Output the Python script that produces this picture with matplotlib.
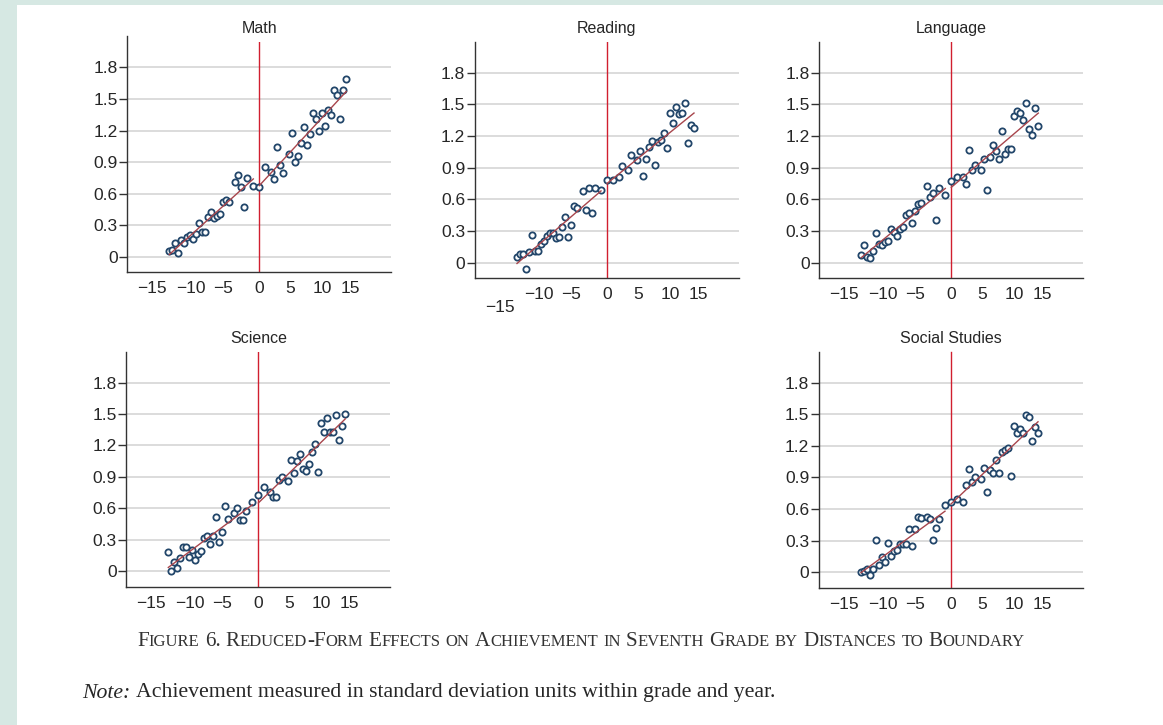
import numpy as np
import matplotlib
matplotlib.use("Agg")
import matplotlib.pyplot as plt
import matplotlib.transforms as mtransforms
from matplotlib.patches import Rectangle
from matplotlib.offsetbox import TextArea, HPacker, AnnotationBbox

W, H = 1163, 725

# distance-to-boundary bins (left and right of the cutoff)
dist_left = [-15, -14.5, -14, -13.5, -13, -12.5, -12, -11.5, -11, -10.5, -10, -9.5, -9,
             -8.5, -8, -7.5, -7, -6.5, -6, -5.5, -5, -4, -3.5, -3, -2.5, -2, -1]
dist_right = [0, 1, 2, 2.5, 3, 3.5, 4, 5, 5.5, 6, 6.5, 7, 7.5, 8, 8.5, 9, 9.5, 10,
              10.5, 11, 11.5, 12, 12.5, 13, 13.5, 14, 14.5]

math_left = [0.05, 0.06, 0.13, 0.04, 0.16, 0.13, 0.19, 0.21, 0.17, 0.22, 0.32, 0.24, 0.24,
             0.38, 0.43, 0.37, 0.39, 0.41, 0.52, 0.54, 0.52, 0.71, 0.78, 0.66, 0.47, 0.75, 0.67]
math_right = [0.66, 0.85, 0.81, 0.74, 1.04, 0.87, 0.80, 0.98, 1.18, 0.90, 0.96, 1.08, 1.23,
              1.06, 1.17, 1.37, 1.31, 1.20, 1.37, 1.24, 1.40, 1.35, 1.59, 1.54, 1.31, 1.59, 1.69]

reading_left = [0.05, 0.08, 0.08, -0.06, 0.10, 0.26, 0.11, 0.11, 0.18, 0.21, 0.25, 0.28, 0.28,
                0.23, 0.24, 0.34, 0.43, 0.24, 0.36, 0.54, 0.52, 0.68, 0.50, 0.71, 0.47, 0.71, 0.69]
reading_right = [0.78, 0.78, 0.81, 0.92, np.nan, 0.88, 1.02, 0.97, 1.06, 0.82, 0.98, 1.10, 1.15,
                 0.93, 1.14, 1.16, 1.23, 1.09, 1.42, 1.32, 1.48, 1.41, 1.42, 1.51, 1.13, 1.31, 1.28]

language_left = [0.07, 0.17, 0.05, 0.04, 0.11, 0.28, 0.18, 0.17, 0.20, 0.21, 0.32, 0.29, 0.25,
                 0.32, 0.34, 0.45, 0.47, 0.38, 0.49, 0.56, 0.57, 0.73, 0.62, 0.66, 0.40, 0.71, 0.64]
language_right = [0.77, 0.81, 0.81, 0.75, 1.07, 0.88, 0.93, 0.88, 0.98, 0.69, 1.00, 1.12, 1.06,
                  0.98, 1.25, 1.03, 1.08, 1.08, 1.39, 1.44, 1.42, 1.35, 1.51, 1.27, 1.21, 1.47, 1.30]

science_left = [0.18, 0.00, 0.09, 0.03, 0.13, 0.23, 0.23, 0.14, 0.20, 0.11, 0.16, 0.19, 0.32,
                0.34, 0.26, 0.34, 0.52, 0.28, 0.37, 0.62, 0.50, 0.56, 0.60, 0.49, 0.49, 0.57, 0.66]
science_right = [0.73, 0.80, 0.76, 0.71, 0.71, 0.87, 0.90, 0.86, 1.06, 0.94, 1.05, 1.12, 0.98,
                 0.96, 1.02, 1.14, 1.21, 0.95, 1.41, 1.33, 1.46, 1.33, 1.33, 1.49, 1.25, 1.39, 1.50]

social_left = [0.00, 0.01, 0.03, -0.02, 0.03, 0.31, 0.07, 0.15, 0.10, 0.28, 0.16, 0.20, 0.21,
               0.27, 0.27, 0.27, 0.41, 0.25, 0.41, 0.53, 0.52, 0.53, 0.51, 0.31, 0.42, 0.51, 0.64]
social_right = [0.67, 0.70, 0.67, 0.83, 0.98, 0.86, 0.90, 0.89, 0.99, 0.76, 0.97, 0.94, 1.07,
                0.94, 1.14, 1.16, 1.18, 0.91, 1.39, 1.32, 1.36, 1.32, 1.49, 1.47, 1.25, 1.38, 1.32]

titles = ["Math", "Reading", "Language", "Science", "Social Studies"]
y_ticks = [0, 0.3, 0.6, 0.9, 1.2, 1.5, 1.8]
y_labels = ["0", "0.3", "0.6", "0.9", "1.2", "1.5", "1.8"]
x_ticks = [-15, -10, -5, 0, 5, 10, 15]
x_labels = ["\u221215", "\u221210", "\u22125", "0", "5", "10", "15"]

caption = "Figure 6. Reduced-Form Effects on Achievement in Seventh Grade by Distances to Boundary"
note_lead = "Note:"
note_text = "Achievement measured in standard deviation units within grade and year."

# panel boxes in pixels: left, top, width, height, y top limit
boxes = [(127.3, 41.7, 264, 230.6, 2.045), (475, 41.7, 264, 236.6, 2.095),
         (819.3, 41.7, 264, 236.6, 2.095), (126.3, 351.7, 264, 235.0, 2.095),
         (819, 351.5, 264, 236.5, 2.095)]
panels = [(math_left, math_right), (reading_left, reading_right),
          (language_left, language_right), (science_left, science_right),
          (social_left, social_right)]

# pixel nudges for the x tick labels (crowded Stata-style labels)
label_dx = [-17, -8, -6, 0, 1, 3, 1]

SANS = "Liberation Sans"
SERIF = "Liberation Serif"
INK = "#262626"

fig = plt.figure(figsize=(W / 100, H / 100), dpi=100, facecolor="#d6e8e3")
fig.patches.append(Rectangle((17 / W, 0), 1, 1 - 5 / H, transform=fig.transFigure,
                             facecolor="white", edgecolor="none", zorder=-10))


def fit_line(ax, xs, ys):
    xs = np.asarray(xs, float)
    ys = np.asarray(ys, float)
    ok = ~np.isnan(ys)
    b, a = np.polyfit(xs[ok], ys[ok], 1)
    xx = np.array([xs[ok].min(), xs[ok].max()])
    ax.plot(xx, a + b * xx, color="#a8454c", lw=1.0, zorder=4)


for i, ((l, t, w, h, ytop), (yl, yr), title) in enumerate(zip(boxes, panels, titles)):
    ax = fig.add_axes([l / W, 1 - (t + h) / H, w / W, h / H])
    ax.set_facecolor("none")
    ax.set_xlim(-22, 22)
    ax.set_ylim(-0.148, ytop)
    for s in ["top", "right"]:
        ax.spines[s].set_visible(False)
    for s in ["left", "bottom"]:
        ax.spines[s].set_color("#333333")
        ax.spines[s].set_linewidth(1.0)
    ax.spines["left"].set_bounds(-0.148, 2.095)

    ax.set_yticks(y_ticks, y_labels)
    ax.tick_params(axis="y", length=5.5, width=1.0, color="#333333", pad=1.5,
                   labelsize=12.5, labelcolor=INK)
    for lab in ax.get_yticklabels():
        lab.set_fontfamily(SANS)
    ax.set_xticks([])
    ax.grid(axis="y", color="#d2d2d2", lw=1.1, zorder=0)
    ax.set_axisbelow(True)

    # x tick labels drawn by hand so they can be nudged
    for j, (xv, txt) in enumerate(zip(x_ticks, x_labels)):
        dy = -9 / 100
        if i == 1 and xv == -15:
            dy -= 13 / 100
        off = mtransforms.ScaledTranslation(label_dx[j] / 100, dy, fig.dpi_scale_trans)
        tr = mtransforms.blended_transform_factory(ax.transData, ax.transAxes) + off
        ax.text(xv, 0, txt, transform=tr, ha="center", va="top", fontsize=12.5,
                family=SANS, color=INK)

    ax.axvline(0, color="#d11f2f", lw=1.0, zorder=2)
    for xs, ys in [(dist_left, yl), (dist_right, yr)]:
        ax.plot(xs, ys, "o", ms=4.5, mfc="white", mec="#22466a", mew=1.3, zorder=3)
        fit_line(ax, xs, ys)

    ax.set_title(title, fontsize=11.5, family=SANS, color=INK, pad=6)


def small_caps(text, big, small, color):
    words = []
    for word in text.split(" "):
        groups = []
        for ch in word:
            is_big = (not ch.isalpha()) or ch.isupper()
            if groups and groups[-1][1] == is_big:
                groups[-1][0] += ch.upper()
            else:
                groups.append([ch.upper(), is_big])
        parts = [TextArea(g, textprops=dict(size=big if b else small, family=SERIF,
                                            color=color)) for g, b in groups]
        words.append(HPacker(children=parts, align="baseline", pad=0, sep=0))
    return HPacker(children=words, align="baseline", pad=0, sep=3.8)


cap_box = small_caps(caption, 15.2, 12.0, "#333333")
fig.add_artist(AnnotationBbox(cap_box, (137, H - 642), xycoords="figure pixels",
                              box_alignment=(0, 0.5), frameon=False, pad=0))

note_box = HPacker(children=[
    TextArea(note_lead, textprops=dict(size=15.7, family=SERIF, style="italic", color=INK)),
    TextArea(note_text, textprops=dict(size=15.7, family=SERIF, color=INK)),
], align="baseline", pad=0, sep=3.8)
fig.add_artist(AnnotationBbox(note_box, (82, H - 693), xycoords="figure pixels",
                              box_alignment=(0, 0.5), frameon=False, pad=0))

fig.savefig("out.png", dpi=100, facecolor=fig.get_facecolor())
